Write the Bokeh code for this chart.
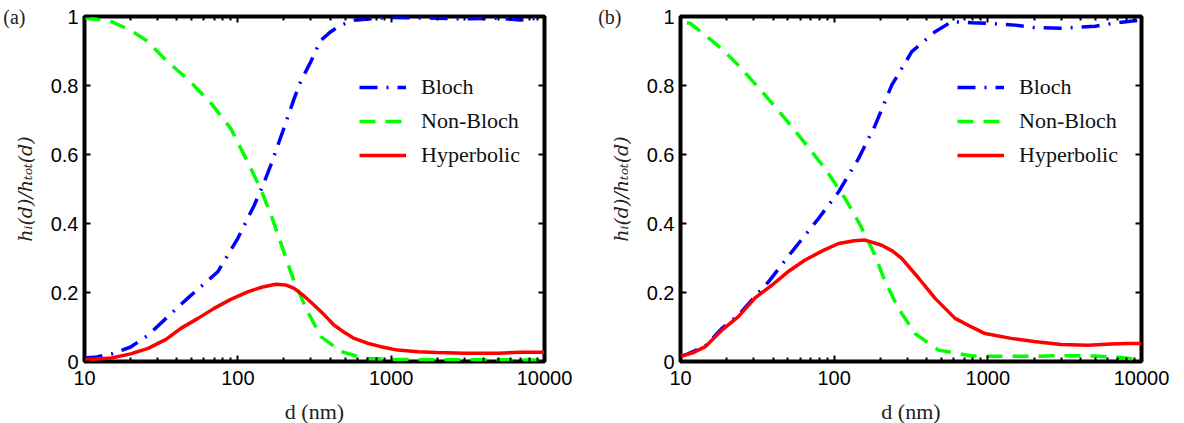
from bokeh.plotting import figure
from bokeh.models import (LogAxis, LinearAxis, FixedTicker, Legend, LegendItem,
                          Range1d, PrintfTickFormatter)
from bokeh.layouts import row
from bokeh.embed import file_html
from bokeh.resources import INLINE

# ---------------- data ----------------
# panel (a)
d_bloch_a = [10, 12, 15, 20, 26, 34, 47, 74, 100, 128, 149, 164, 196, 233, 256, 299, 346,
             404, 470, 574, 800, 1000, 2000, 3000, 5000, 7000, 10000]
bloch_a = [0.010, 0.013, 0.022, 0.042, 0.076, 0.125, 0.183, 0.26, 0.357, 0.453, 0.521, 0.569,
           0.666, 0.762, 0.81, 0.869, 0.93, 0.956, 0.975, 0.989, 0.995, 0.997, 0.995, 0.993,
           0.995, 0.99, 0.997]

d_nonbloch_a = [10, 12, 15, 20, 26, 34, 48, 67, 90, 113, 141, 168, 196, 233, 285, 348, 470,
                667, 1000, 2000, 5000, 10000]
nonbloch_a = [0.995, 0.992, 0.985, 0.96, 0.927, 0.873, 0.815, 0.748, 0.675, 0.588, 0.50, 0.414,
              0.328, 0.232, 0.145, 0.072, 0.029, 0.009, 0.006, 0.005, 0.005, 0.004]

d_hyper_a = [10, 12, 15, 20, 26, 34, 42.5, 55, 70, 90, 116, 145, 177, 205, 233, 270, 315, 370,
             425, 500, 574, 700, 857, 1100, 1500, 2000, 3000, 5000, 7000, 10000]
hyper_a = [0.005, 0.007, 0.01, 0.022, 0.038, 0.064, 0.096, 0.125, 0.154, 0.18, 0.202, 0.216,
           0.224, 0.222, 0.212, 0.19, 0.163, 0.133, 0.105, 0.083, 0.067, 0.053, 0.043, 0.033,
           0.028, 0.026, 0.024, 0.024, 0.027, 0.027]

# panel (b)
d_bloch_b = [10, 11.3, 14.5, 18.5, 23.8, 30.7, 37.4, 53, 79, 107, 144, 185, 237, 320, 454,
             582, 786, 1000, 1500, 2000, 3000, 5000, 7000, 10000]
bloch_b = [0.015, 0.023, 0.045, 0.095, 0.134, 0.19, 0.231, 0.318, 0.414, 0.492, 0.588, 0.685,
           0.801, 0.898, 0.956, 0.985, 0.982, 0.98, 0.975, 0.968, 0.966, 0.972, 0.982, 0.99]

d_nonbloch_b = [11, 11.6, 15, 18.5, 23.8, 34.7, 48, 64.7, 87.3, 118, 144, 180, 215, 262, 336,
                477, 786, 1000, 2000, 3000, 5000, 7000, 10000]
nonbloch_b = [0.982, 0.98, 0.94, 0.907, 0.859, 0.777, 0.704, 0.632, 0.559, 0.472, 0.405, 0.318,
              0.231, 0.154, 0.081, 0.033, 0.016, 0.015, 0.015, 0.017, 0.016, 0.012, 0.005]

d_hyper_b = [10, 12, 14.5, 18.5, 23.8, 30.7, 39.3, 50, 64.7, 85, 107, 135, 159, 204, 240, 275,
             354, 454, 612, 800, 959, 1420, 2000, 3000, 4500, 6340, 8000, 10000]
hyper_b = [0.015, 0.025, 0.043, 0.09, 0.13, 0.185, 0.221, 0.26, 0.294, 0.322, 0.342, 0.350,
           0.352, 0.337, 0.32, 0.299, 0.242, 0.183, 0.125, 0.098, 0.081, 0.067, 0.058, 0.049,
           0.047, 0.051, 0.052, 0.052]

series_names = ["Bloch", "Non-Bloch", "Hyperbolic"]
panel_tags = ["(a)", "(b)"]
x_ticks = [10, 100, 1000, 10000]
x_minor = [20, 30, 40, 50, 60, 70, 80, 90, 200, 300, 400, 500, 600, 700, 800, 900,
           2000, 3000, 4000, 5000, 6000, 7000, 8000, 9000]
y_ticks = [0, 0.2, 0.4, 0.6, 0.8, 1]
y_tick_labels = ["0", "0.2", "0.4", "0.6", "0.8", "1"]
x_label = "d (nm)"
y_label = "hᵢ(d)/hₜₒₜ(d)"

SANS = "Liberation Sans"
SERIF = "Liberation Serif"


def style_axis(ax, minor=True):
    ax.axis_line_color = None
    ax.major_tick_in = 6
    ax.major_tick_out = 0
    ax.major_tick_line_width = 2
    ax.major_tick_line_color = "black"
    if minor:
        ax.minor_tick_in = 4
        ax.minor_tick_out = 0
        ax.minor_tick_line_width = 2
        ax.minor_tick_line_color = "black"
    else:
        ax.minor_tick_line_color = None


def make_panel(tag, data, border_left, border_right, frame_w, legend_x, tag_standoff):
    p = figure(frame_width=frame_w, frame_height=345, x_axis_type="log",
               x_range=Range1d(10, 10000), y_range=Range1d(0, 1),
               output_backend="svg", toolbar_location=None,
               min_border_left=border_left, min_border_right=border_right,
               min_border_top=16, min_border_bottom=56,
               x_axis_location=None, y_axis_location=None)
    p.grid.visible = False
    p.outline_line_color = "black"
    p.outline_line_width = 4
    p.background_fill_color = "white"
    p.border_fill_color = "white"

    xt = FixedTicker(ticks=x_ticks, minor_ticks=x_minor)
    yt = FixedTicker(ticks=y_ticks)

    xb = LogAxis(ticker=xt, formatter=PrintfTickFormatter(format="%d"))
    style_axis(xb)
    xb.major_label_text_font = SANS
    xb.major_label_text_font_size = "20px"
    xb.major_label_text_color = "black"
    xb.major_label_standoff = 9
    xb.axis_label = x_label
    xb.axis_label_text_font = SERIF
    xb.axis_label_text_font_style = "normal"
    xb.axis_label_text_font_size = "22px"
    xb.axis_label_text_color = "#222222"
    xb.axis_label_standoff = 11
    p.add_layout(xb, "below")

    xa = LogAxis(ticker=xt)
    style_axis(xa)
    xa.major_label_overrides = {t: "" for t in x_ticks}
    xa.major_label_text_font_size = "0px"
    xa.major_label_standoff = 0
    p.add_layout(xa, "above")

    yl = LinearAxis(ticker=yt)
    style_axis(yl, minor=False)
    yl.major_label_overrides = dict(zip(y_ticks, y_tick_labels))
    yl.major_label_text_font = SANS
    yl.major_label_text_font_size = "20px"
    yl.major_label_text_color = "black"
    yl.major_label_standoff = 6
    yl.axis_label = y_label
    yl.axis_label_text_font = "DejaVu Serif"
    yl.axis_label_text_font_style = "italic"
    yl.axis_label_text_font_size = "19px"
    yl.axis_label_text_color = "#222222"
    yl.axis_label_standoff = 12
    p.add_layout(yl, "left")

    # outer left axis carrying only the panel tag next to the top of the frame
    ytag = LinearAxis(ticker=FixedTicker(ticks=[1]))
    ytag.axis_line_color = None
    ytag.major_tick_line_color = None
    ytag.minor_tick_line_color = None
    ytag.major_label_overrides = {1: tag}
    ytag.major_label_text_font = SERIF
    ytag.major_label_text_font_size = "20px"
    ytag.major_label_text_color = "#222222"
    ytag.major_label_standoff = tag_standoff
    p.add_layout(ytag, "left")

    yr = LinearAxis(ticker=yt)
    style_axis(yr, minor=False)
    yr.major_label_overrides = {t: "" for t in y_ticks}
    yr.major_label_text_font_size = "0px"
    yr.major_label_standoff = 0
    p.add_layout(yr, "right")

    (db, vb), (dn, vn), (dh, vh) = data
    r1 = p.line(db, vb, line_color="#0000FF", line_width=3.5, line_dash="18 9 2 9")
    r2 = p.line(dn, vn, line_color="#00FF00", line_width=3.5, line_dash="16 10")
    r3 = p.line(dh, vh, line_color="#FF0000", line_width=3.5)

    legend = Legend(items=[LegendItem(label=series_names[0], renderers=[r1]),
                           LegendItem(label=series_names[1], renderers=[r2]),
                           LegendItem(label=series_names[2], renderers=[r3])],
                    location=(legend_x, 193), padding=0, margin=0, spacing=8,
                    glyph_width=47, glyph_height=24, label_height=24,
                    label_standoff=15, border_line_alpha=0, background_fill_alpha=0,
                    label_text_font=SERIF, label_text_font_size="22px",
                    label_text_color="#111111")
    p.add_layout(legend, "center")
    return p


pa = make_panel(panel_tags[0],
                [(d_bloch_a, bloch_a), (d_nonbloch_a, nonbloch_a), (d_hyper_a, hyper_a)],
                79, 51, 460, 275, -21)
pb = make_panel(panel_tags[1],
                [(d_bloch_b, bloch_b), (d_nonbloch_b, nonbloch_b), (d_hyper_b, hyper_b)],
                84, 33, 461, 277, -21)

layout = row(pa, pb)
open("out.html", "w").write(file_html(layout, INLINE))
